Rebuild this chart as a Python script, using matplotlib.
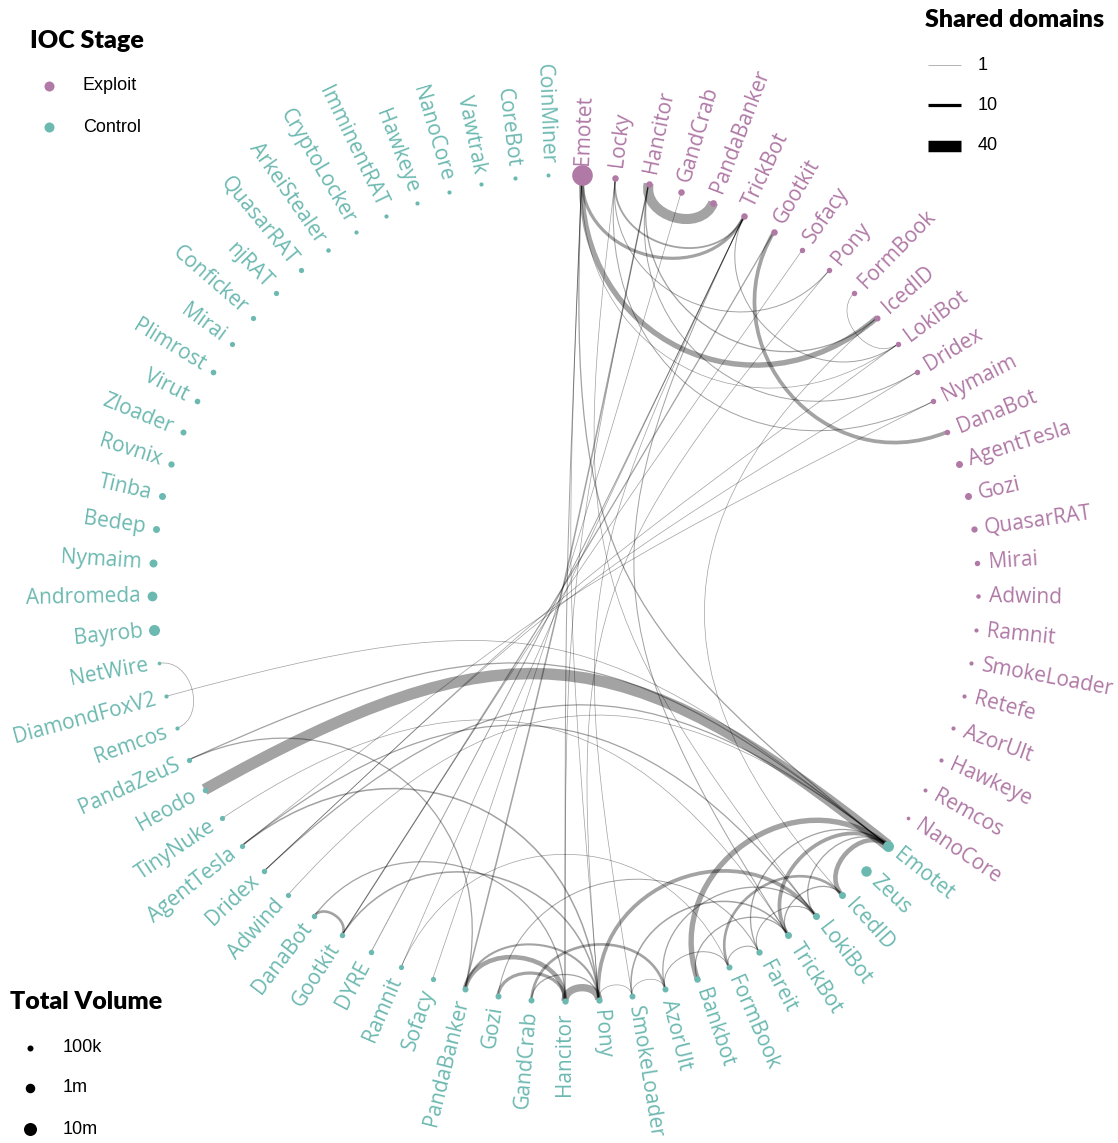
import numpy as np
import matplotlib.pyplot as plt
from matplotlib.path import Path
from matplotlib.patches import PathPatch

# nodes, clockwise from the top: exploit stage first, then control stage
exploit_names = ["Emotet", "Locky", "Hancitor", "GandCrab", "PandaBanker", "TrickBot", "Gootkit",
                 "Sofacy", "Pony", "FormBook", "IcedID", "LokiBot", "Dridex", "Nymaim", "DanaBot",
                 "AgentTesla", "Gozi", "QuasarRAT", "Mirai", "Adwind", "Ramnit", "SmokeLoader",
                 "Retefe", "AzorUlt", "Hawkeye", "Remcos", "NanoCore"]
exploit_volume = [1.5e9, 140000, 140000, 140000, 160000, 140000, 140000,
                  70000, 70000, 70000, 100000, 70000, 70000, 70000, 70000,
                  190000, 190000, 120000, 70000, 37000, 30000, 30000,
                  30000, 30000, 30000, 27000, 22000]

control_names = ["Emotet", "Zeus", "IcedID", "LokiBot", "TrickBot", "Fareit", "FormBook", "Bankbot",
                 "AzorUlt", "SmokeLoader", "Pony", "Hancitor", "GandCrab", "Gozi", "PandaBanker",
                 "Sofacy", "Ramnit", "DYRE", "Gootkit", "DanaBot", "Adwind", "Dridex", "AgentTesla",
                 "TinyNuke", "Heodo", "PandaZeuS", "Remcos", "DiamondFoxV2", "NetWire", "Bayrob",
                 "Andromeda", "Nymaim", "Bedep", "Tinba", "Rovnix", "Zloader", "Virut", "Plimrost",
                 "Mirai", "Conficker", "njRAT", "QuasarRAT", "ArkeiStealer", "CryptoLocker",
                 "ImminentRAT", "Hawkeye", "NanoCore", "Vawtrak", "CoreBot", "CoinMiner"]
control_volume = [2.7e6, 1.9e6, 190000, 190000, 190000, 120000, 100000, 140000,
                  100000, 100000, 120000, 120000, 100000, 100000, 100000,
                  60000, 60000, 70000, 70000, 70000, 60000, 70000, 60000,
                  60000, 70000, 60000, 30000, 30000, 22000, 2.7e6,
                  1.2e6, 370000, 190000, 190000, 120000, 100000, 80000, 80000,
                  60000, 60000, 60000, 60000, 37000, 30000,
                  30000, 30000, 30000, 30000, 30000, 27000]

# shared-domain links ("E:" exploit stage, "C:" control stage)
edge_from = ["E:Emotet", "E:Emotet", "E:Locky", "E:Hancitor", "E:Gootkit", "E:FormBook",
             "E:TrickBot", "E:Hancitor", "E:Hancitor", "E:Locky", "E:Emotet", "E:Pony",
             "E:Sofacy", "E:LokiBot", "E:Emotet", "E:Emotet", "E:Emotet",
             "E:Hancitor", "E:GandCrab", "E:TrickBot", "E:TrickBot", "E:TrickBot", "E:Locky",
             "E:Gootkit", "E:Pony", "E:IcedID", "E:Dridex", "E:Nymaim", "E:Hancitor",
             "C:Emotet", "C:Emotet", "C:Emotet", "C:Emotet", "C:Emotet", "C:IcedID", "C:IcedID",
             "C:LokiBot", "C:LokiBot", "C:LokiBot", "C:TrickBot", "C:TrickBot", "C:Fareit",
             "C:Fareit", "C:FormBook", "C:Hancitor", "C:PandaBanker", "C:PandaBanker", "C:Gozi",
             "C:GandCrab", "C:GandCrab", "C:SmokeLoader", "C:Pony", "C:DanaBot", "C:DanaBot",
             "C:Gootkit", "C:DYRE", "C:Ramnit", "C:Adwind", "C:Dridex", "C:AgentTesla",
             "C:AgentTesla", "C:TinyNuke", "C:Heodo", "C:PandaZeuS", "C:PandaZeuS", "C:Remcos",
             "C:DiamondFoxV2"]
edge_to = ["E:IcedID", "E:TrickBot", "E:TrickBot", "E:PandaBanker", "E:DanaBot", "E:LokiBot",
           "E:LokiBot", "E:IcedID", "E:Dridex", "E:Nymaim", "E:LokiBot", "E:Locky",
           "C:Gootkit", "C:Dridex", "C:Hancitor", "C:Pony", "C:Emotet",
           "C:PandaBanker", "C:Sofacy", "C:Ramnit", "C:SmokeLoader", "C:TrickBot", "C:LokiBot",
           "C:Gootkit", "C:Pony", "C:IcedID", "C:Dridex", "C:AgentTesla", "C:Hancitor",
           "C:IcedID", "C:TrickBot", "C:Bankbot", "C:LokiBot", "C:Fareit", "C:FormBook", "C:TrickBot",
           "C:Pony", "C:AzorUlt", "C:Fareit", "C:SmokeLoader", "C:Bankbot", "C:FormBook",
           "C:Gozi", "C:AzorUlt", "C:Pony", "C:Hancitor", "C:Pony", "C:Hancitor",
           "C:AzorUlt", "C:Pony", "C:AzorUlt", "C:SmokeLoader", "C:Gootkit", "C:Hancitor",
           "C:Pony", "E:TrickBot", "C:FormBook", "C:Emotet", "C:Emotet", "C:Pony",
           "C:LokiBot", "C:TrickBot", "C:Emotet", "C:Emotet", "C:PandaBanker", "C:NetWire",
           "C:Emotet"]
edge_domains = [18, 10, 5, 35, 12, 1,
                2, 3, 2, 2, 1, 2,
                1, 1, 2, 1, 3,
                4, 1, 1, 1, 2, 1,
                3, 1, 1, 1, 1, 1,
                15, 12, 18, 3, 3, 8, 3,
                12, 3, 2, 4, 3, 2,
                2, 2, 25, 15, 6, 10,
                8, 3, 1, 1, 8, 3,
                4, 2, 1, 1, 3, 4,
                3, 1, 40, 3, 3, 1,
                1]

EXPLOIT_COL = "#B079A6"
CONTROL_COL = "#6CB9B1"
CX, CY, R = 565, 588, 413
LABEL_FONT = "Open Sans"


def node_diam(v):
    return max(3.5, 6 + 3.5 * np.log10(v / 1e5))


def edge_px(w):
    return 0.45 + 0.275 * w


names = ["E:" + n for n in exploit_names] + ["C:" + n for n in control_names]
volumes = exploit_volume + control_volume
colors = [EXPLOIT_COL] * len(exploit_names) + [CONTROL_COL] * len(control_names)
n_nodes = len(names)
step = 360 / n_nodes
angles = {nm: 90 - (i + 0.5) * step for i, nm in enumerate(names)}


def pos(a, r=R):
    t = np.radians(a)
    return np.array([CX + r * np.cos(t), CY - r * np.sin(t)])


fig = plt.figure(figsize=(11.18, 11.43), dpi=100)
ax = fig.add_axes([0, 0, 1, 1])
ax.set_xlim(0, 1118)
ax.set_ylim(1143, 0)
ax.axis("off")

# edges: cubic curves pulled toward the centre
center = np.array([CX, CY])
for a, b, w in sorted(zip(edge_from, edge_to, edge_domains), key=lambda e: e[2]):
    p0, p3 = pos(angles[a]), pos(angles[b])
    s = np.linalg.norm(p3 - p0) / (2 * R)
    p1 = p0 + s * (center - p0)
    p2 = p3 + s * (center - p3)
    path = Path([p0, p1, p2, p3], [Path.MOVETO, Path.CURVE4, Path.CURVE4, Path.CURVE4])
    ax.add_patch(PathPatch(path, fill=False, edgecolor="black", alpha=0.36,
                           linewidth=edge_px(w) * 0.72, capstyle="butt", zorder=1))

# nodes and labels
for nm, v, col in zip(names, volumes, colors):
    a = angles[nm]
    x, y = pos(a)
    ax.scatter([x], [y], s=(node_diam(v) * 0.72) ** 2, color=col, linewidths=0, zorder=3)
    lx, ly = pos(a, R + 11)
    if -90 < a < 90:
        rot, ha = a, "left"
    else:
        rot, ha = a + 180, "right"
    ax.text(lx, ly, nm[2:], rotation=rot, rotation_mode="anchor", ha=ha, va="center",
            color=col, fontsize=15, family=LABEL_FONT, zorder=4)

# legends
TITLE_KW = dict(fontsize=18, fontweight="heavy", family="Lato", va="center")
ITEM_KW = dict(fontsize=13, family="Liberation Sans", va="center")

ax.text(30, 41, "IOC Stage", ha="left", **TITLE_KW)
for yy, lab, col in [(86, "Exploit", EXPLOIT_COL), (127, "Control", CONTROL_COL)]:
    ax.scatter([49], [yy], s=(10 * 0.72) ** 2, color=col, linewidths=0)
    ax.text(83, yy, lab, ha="left", **ITEM_KW)

ax.text(925, 20, "Shared domains", ha="left", **TITLE_KW)
for yy, w in [(65, 1), (105, 10), (146, 40)]:
    ax.plot([928, 961], [yy, yy], color="black", alpha=0.4 if w == 1 else 1,
            linewidth=edge_px(w) * 0.72, solid_capstyle="butt")
    ax.text(978, yy, str(w), ha="left", **ITEM_KW)

ax.text(10, 1002, "Total Volume", ha="left", **TITLE_KW)
for yy, v, lab in [(1048, 1e5, "100k"), (1088, 1e6, "1m"), (1129, 1e7, "10m")]:
    ax.scatter([30], [yy], s=(node_diam(v) * 0.72) ** 2, color="black", linewidths=0)
    ax.text(63, yy, lab, ha="left", **ITEM_KW)

fig.savefig("out.png", dpi=100, facecolor="white")
